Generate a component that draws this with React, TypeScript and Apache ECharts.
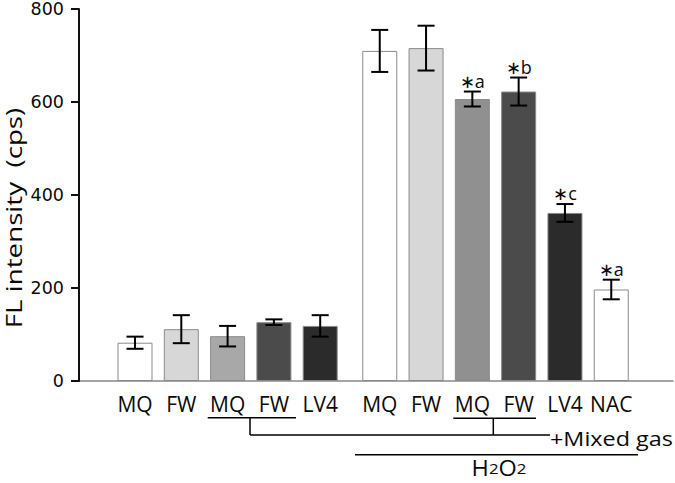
import React, { useEffect, useRef } from "react";
import * as echarts from "echarts";

// ---- data ----
const group1Labels = ["MQ", "FW", "MQ", "FW", "LV4"];
const group1Values = [82, 111, 96, 126, 118];
const group1Errors = [13, 30, 22, 6, 23];
const group1Colors = ["#ffffff", "#d7d7d7", "#a8a8a8", "#4b4b4b", "#2b2b2b"];
const group1Sig = ["", "", "", "", ""];

const group2Labels = ["MQ", "FW", "MQ", "FW", "LV4", "NAC"];
const group2Values = [707, 713, 604, 620, 360, 196];
const group2Errors = [45, 48, 16, 30, 19, 21];
const group2Colors = ["#ffffff", "#d7d7d7", "#909090", "#4b4b4b", "#2b2b2b", "#ffffff"];
const group2Sig = ["", "", "∗a", "∗b", "∗c", "∗a"];

const yMin = 0;
const yMax = 800;
const yInterval = 200;

const yTitle = "FL intensity  (cps)";
const mixedLabel = "+Mixed gas";

const FONT = "Open Sans";
const TICK_FONT = "DejaVu Sans";
const INK = "#0a0a0a";

function errRenderer(sig: string[]) {
  return (params: any, api: any) => {
    const i = api.value(0);
    const m = api.value(1);
    const e = api.value(2);
    const top = api.coord([i, m + e]);
    const bot = api.coord([i, m - e]);
    const hw = 8.5;
    const style = { stroke: "#000", lineWidth: 2 };
    const children: any[] = [
      { type: "line", shape: { x1: top[0], y1: top[1], x2: bot[0], y2: bot[1] }, style },
      { type: "line", shape: { x1: top[0] - hw, y1: top[1], x2: top[0] + hw, y2: top[1] }, style },
      { type: "line", shape: { x1: bot[0] - hw, y1: bot[1], x2: bot[0] + hw, y2: bot[1] }, style },
    ];
    const s = sig[params.dataIndex];
    if (s) {
      children.push({
        type: "text",
        x: top[0],
        y: top[1] - 2,
        style: {
          text: s,
          fontSize: 18,
          fontFamily: FONT,
          fill: INK,
          align: "center",
          verticalAlign: "bottom",
          textAlign: "center",
          textVerticalAlign: "bottom",
        },
      });
    }
    return { type: "group", children };
  };
}

function barData(values: number[], colors: string[]) {
  return values.map((v, i) => ({
    value: v,
    itemStyle: { color: colors[i], borderColor: "#8a8a8a", borderWidth: 1 },
  }));
}

export default function App() {
  const ref = useRef<HTMLDivElement>(null);
  useEffect(() => {
    if (!ref.current) return;
    const chart = echarts.init(ref.current, undefined, { renderer: "svg" });
    const top = 7.5;
    const bottom = 102;
    const catAxis = (idx: number, labels: string[]) => ({
      type: "category",
      gridIndex: idx,
      data: labels,
      axisLine: { show: false },
      axisTick: { show: false },
      axisLabel: { fontFamily: FONT, fontSize: 21, color: INK, margin: 12, interval: 0 },
    });
    const hiddenY = (idx: number) => ({
      type: "value",
      gridIndex: idx,
      min: yMin,
      max: yMax,
      interval: yInterval,
      show: false,
    });
    const lineStyle = { stroke: "#000", lineWidth: 1.5 };
    chart.setOption({
      animation: false,
      backgroundColor: "#fff",
      grid: [
        { left: 79, right: 2, top, bottom },
        { left: 111.85, width: 231.5, top, bottom },
        { left: 356.6, width: 277.8, top, bottom },
      ],
      xAxis: [
        {
          type: "value",
          gridIndex: 0,
          min: 0,
          max: 1,
          axisLine: { show: true, lineStyle: { color: "#888", width: 1.5 } },
          axisTick: { show: false },
          axisLabel: { show: false },
          splitLine: { show: false },
        },
        catAxis(1, group1Labels),
        catAxis(2, group2Labels),
      ],
      yAxis: [
        {
          type: "value",
          gridIndex: 0,
          min: yMin,
          max: yMax,
          interval: yInterval,
          axisLine: { show: true, lineStyle: { color: "#111", width: 2 } },
          axisTick: { show: true, length: 8, lineStyle: { color: "#111", width: 2 } },
          axisLabel: { fontFamily: TICK_FONT, fontSize: 17.5, lineHeight: 16, color: INK, margin: 15 },
          splitLine: { show: false },
          z: 5,
        },
        hiddenY(1),
        hiddenY(2),
      ],
      series: [
        {
          type: "bar",
          xAxisIndex: 1,
          yAxisIndex: 1,
          barWidth: 35,
          data: barData(group1Values, group1Colors),
        },
        {
          type: "bar",
          xAxisIndex: 2,
          yAxisIndex: 2,
          barWidth: 35,
          data: barData(group2Values, group2Colors),
        },
        {
          type: "custom",
          xAxisIndex: 1,
          yAxisIndex: 1,
          z: 10,
          clip: false,
          encode: { x: 0, y: 1 },
          data: group1Values.map((v, i) => [i, v, group1Errors[i]]),
          renderItem: errRenderer(group1Sig),
        },
        {
          type: "custom",
          xAxisIndex: 2,
          yAxisIndex: 2,
          z: 10,
          clip: false,
          encode: { x: 0, y: 1 },
          data: group2Values.map((v, i) => [i, v, group2Errors[i]]),
          renderItem: errRenderer(group2Sig),
        },
      ],
      graphic: [
        {
          type: "text",
          x: 14,
          y: 218,
          rotation: Math.PI / 2,
          scaleX: 1.32,
          style: {
            text: yTitle,
            fontFamily: FONT,
            fontSize: 21,
            fill: INK,
            align: "center",
            verticalAlign: "middle",
            textAlign: "center",
            textVerticalAlign: "middle",
          },
        },
        { type: "line", shape: { x1: 207.7, y1: 417.7, x2: 296, y2: 417.7 }, style: lineStyle },
        { type: "line", shape: { x1: 250, y1: 417.7, x2: 250, y2: 435 }, style: lineStyle },
        { type: "line", shape: { x1: 453.3, y1: 418.3, x2: 536, y2: 418.3 }, style: lineStyle },
        { type: "line", shape: { x1: 493.3, y1: 418.3, x2: 493.3, y2: 435 }, style: lineStyle },
        { type: "line", shape: { x1: 250, y1: 435, x2: 550, y2: 435 }, style: lineStyle },
        { type: "line", shape: { x1: 355, y1: 454.7, x2: 638, y2: 454.7 }, style: lineStyle },
        {
          type: "text",
          x: 550,
          y: 438,
          scaleX: 1.17,
          style: {
            text: mixedLabel,
            fontFamily: FONT,
            fontSize: 20,
            fill: INK,
            align: "left",
            verticalAlign: "middle",
            textAlign: "left",
            textVerticalAlign: "middle",
          },
        },
        {
          type: "text",
          x: 499,
          y: 468,
          scaleX: 1.12,
          style: {
            text: "{a|H}{b|2}{a|O}{b|2}",
            fontFamily: FONT,
            fill: INK,
            align: "center",
            verticalAlign: "middle",
            textAlign: "center",
            textVerticalAlign: "middle",
            rich: {
              a: { fontSize: 21, fontFamily: FONT, fill: INK },
              b: { fontSize: 15, fontFamily: FONT, fill: INK },
            },
          },
        },
      ],
    });
    return () => chart.dispose();
  }, []);
  return (
    <div
      ref={ref}
      style={{ position: "fixed", left: 0, top: 0, width: 675, height: 483, background: "#fff" }}
    />
  );
}
